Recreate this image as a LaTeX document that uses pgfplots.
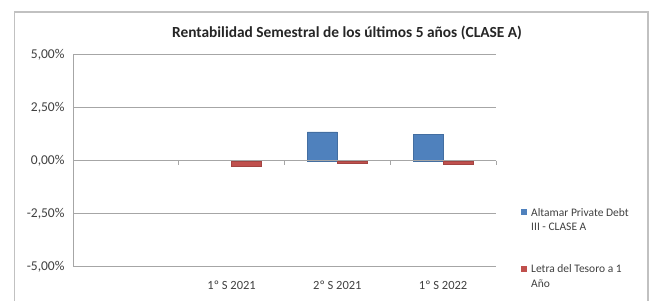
\documentclass[border=0pt]{standalone}
\usepackage{pgfplots}
\pgfplotsset{compat=1.18}
\usepackage{fontspec}
\setmainfont{Carlito}
\definecolor{serA}{HTML}{4F81BD}
\definecolor{serB}{HTML}{C0504D}
\definecolor{gridc}{HTML}{A6A6A6}
\definecolor{txt}{HTML}{404040}
\begin{document}
\begin{tikzpicture}[x=1pt,y=1pt]
\useasboundingbox (0,0) rectangle (656,300);
\fill[white] (0,0) rectangle (656,300);
\draw[gridc!70,line width=1.5pt] (14.5,-10) rectangle (648,288);
\node[font=\bfseries\fontsize{15.4}{17}\selectfont,text=black!85] at (347,267) {Rentabilidad Semestral de los últimos 5 años (CLASE A)};
\begin{axis}[
  at={(73pt,33.5pt)}, anchor=south west,
  width=423pt, height=211.5pt, scale only axis,
  xmin=-0.5, xmax=3.5, ymin=-5, ymax=5,
  ybar=0pt, bar width=30pt,
  axis x line*=bottom,
  x axis line style={draw=none},
  xtick={1,2,3},
  xticklabels={{1º S 2021},{2º S 2021},{1º S 2022}},
  xtick style={draw=none},
  xticklabel style={font=\fontsize{12.5}{14}\selectfont, text=txt, yshift=-6pt},
  axis y line*=left,
  y axis line style={gridc, line width=1pt},
  ytick={-5,-2.5,0,2.5,5},
  yticklabels={{-5,00\%},{-2,50\%},{0,00\%},{2,50\%},{5,00\%}},
  ymajorgrids, grid style={gridc, line width=1pt},
  major tick length=5pt,
  ytick style={gridc, line width=1pt},
  yticklabel style={font=\fontsize{13.5}{15}\selectfont, text=txt, xshift=-5pt},
  clip=false,
]
\addplot[fill=serA, draw=serA!85!black, line width=0.4pt] coordinates {(2,1.37) (3,1.25)};
\addplot[fill=serB, draw=serB!85!black, line width=0.4pt] coordinates {(1,-0.24) (2,-0.10) (3,-0.17)};
\draw[gridc, line width=1pt] (axis cs:-0.5,0) -- (axis cs:3.5,0);
\pgfplotsinvokeforeach{0.5,1.5,2.5,3.5}{
  \draw[gridc, line width=1pt] (axis cs:#1,0) -- ([yshift=-4pt]axis cs:#1,0);
}
\end{axis}
\fill[serA] (521,84.5) rectangle (527,90.5);
\node[anchor=west, font=\fontsize{11.5}{14}\selectfont, text=txt, inner sep=0pt] at (531,87.5) {Altamar Private Debt};
\node[anchor=west, font=\fontsize{11.5}{14}\selectfont, text=txt, inner sep=0pt] at (531,73) {III - CLASE A};
\fill[serB] (521,28) rectangle (527,34);
\node[anchor=west, font=\fontsize{11.5}{14}\selectfont, text=txt, inner sep=0pt] at (531,31) {Letra del Tesoro a 1};
\node[anchor=west, font=\fontsize{11.5}{14}\selectfont, text=txt, inner sep=0pt] at (531,16.5) {Año};
\end{tikzpicture}
\end{document}
